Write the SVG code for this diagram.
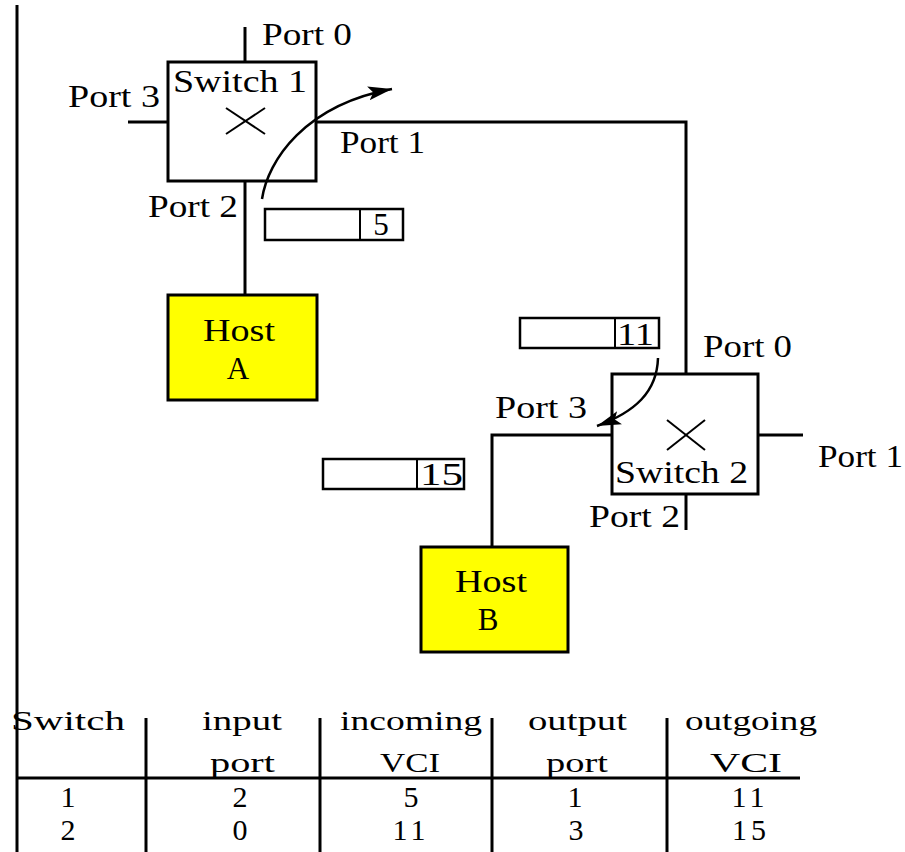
<svg xmlns="http://www.w3.org/2000/svg" width="905" height="852" viewBox="0 0 905 852">
<defs>
<style>
.t{font-family:"Liberation Serif","Times New Roman",serif;font-size:31px;fill:#000}
.tb{font-family:"Liberation Serif","Times New Roman",serif;font-size:28px;fill:#000}
.num{font-family:"Liberation Serif","Times New Roman",serif;font-size:30px;fill:#000}
.ln{stroke:#000;stroke-width:3;fill:none}
.thin{stroke:#000;stroke-width:2;fill:none}
.arr{stroke:#000;stroke-width:2.5;fill:none}
.box{fill:#fff;stroke:#000;stroke-width:3}
.host{fill:#ffff00;stroke:#000;stroke-width:3}
.vci{fill:#fff;stroke:#000;stroke-width:2.5}
</style>
<marker id="ah" markerWidth="26" markerHeight="18" refX="24" refY="9" orient="auto" markerUnits="userSpaceOnUse">
<path d="M0,2 L24,9 L0,16 L5,9 Z" fill="#000"/>
</marker>
</defs>
<rect width="905" height="852" fill="#fff"/>

<g id="connectors">
<line class="ln" x1="17" y1="5" x2="17" y2="852"/>
<line class="ln" x1="245" y1="27" x2="245" y2="62"/>
<line class="ln" x1="128" y1="122" x2="168" y2="122"/>
<polyline class="ln" points="316,122 686,122 686,374"/>
<line class="ln" x1="245" y1="181" x2="245" y2="295"/>
<line class="ln" x1="758" y1="435" x2="803" y2="435"/>
<line class="ln" x1="686" y1="494" x2="686" y2="530"/>
<polyline class="ln" points="612,435 492,435 492,547"/>
</g>

<g id="switch1">
<rect class="box" x="168" y="62" width="148" height="119"/>
<line class="thin" x1="226" y1="108" x2="265" y2="134"/>
<line class="thin" x1="226" y1="134" x2="265" y2="108"/>
<text class="t" x="173" y="92" textLength="134" lengthAdjust="spacingAndGlyphs">Switch 1</text>
<text class="t" x="262" y="45" textLength="90" lengthAdjust="spacingAndGlyphs">Port 0</text>
<text class="t" x="68" y="107" textLength="92" lengthAdjust="spacingAndGlyphs">Port 3</text>
<text class="t" x="340" y="153" textLength="85" lengthAdjust="spacingAndGlyphs">Port 1</text>
<text class="t" x="148" y="217" textLength="90" lengthAdjust="spacingAndGlyphs">Port 2</text>
</g>

<g id="switch2">
<rect class="box" x="612" y="374" width="146" height="120"/>
<line class="thin" x1="667" y1="420" x2="705" y2="450"/>
<line class="thin" x1="667" y1="450" x2="705" y2="420"/>
<text class="t" x="615" y="483" textLength="133" lengthAdjust="spacingAndGlyphs">Switch 2</text>
<text class="t" x="703" y="357" textLength="89" lengthAdjust="spacingAndGlyphs">Port 0</text>
<text class="t" x="495" y="418" textLength="92" lengthAdjust="spacingAndGlyphs">Port 3</text>
<text class="t" x="818" y="467" textLength="85" lengthAdjust="spacingAndGlyphs">Port 1</text>
<text class="t" x="589" y="527" textLength="91" lengthAdjust="spacingAndGlyphs">Port 2</text>
</g>

<g id="hostA">
<rect class="host" x="168" y="295" width="149" height="105"/>
<text class="t" x="203" y="341" textLength="72" lengthAdjust="spacingAndGlyphs">Host</text>
<text class="t" x="238" y="379" text-anchor="middle">A</text>
</g>

<g id="hostB">
<rect class="host" x="421" y="547" width="147" height="105"/>
<text class="t" x="455" y="592" textLength="72" lengthAdjust="spacingAndGlyphs">Host</text>
<text class="t" x="488" y="630" text-anchor="middle">B</text>
</g>

<g id="vci5">
<rect class="vci" x="265" y="209" width="138" height="31"/>
<line class="thin" x1="360" y1="209" x2="360" y2="240"/>
<text class="t" x="381" y="235" text-anchor="middle">5</text>
</g>

<g id="vci11">
<rect class="vci" x="520" y="318" width="139" height="30"/>
<line class="thin" x1="615" y1="318" x2="615" y2="348"/>
<text class="t" x="617" y="345" textLength="37" lengthAdjust="spacingAndGlyphs">11</text>
</g>

<g id="vci15">
<rect class="vci" x="323" y="459" width="141" height="30"/>
<line class="thin" x1="417" y1="459" x2="417" y2="489"/>
<text class="t" x="420" y="485" textLength="43" lengthAdjust="spacingAndGlyphs">15</text>
</g>

<g id="arrows">
<path class="arr" d="M262,199 C268,160 305,105 392,89" marker-end="url(#ah)"/>
<path class="arr" d="M658,358 C657,392 635,412 597,426" marker-end="url(#ah)"/>
</g>

<g id="table">
<line class="ln" x1="17" y1="778" x2="800" y2="778"/>
<line class="ln" x1="146" y1="718" x2="146" y2="852"/>
<line class="ln" x1="320" y1="718" x2="320" y2="852"/>
<line class="ln" x1="492" y1="718" x2="492" y2="852"/>
<line class="ln" x1="667" y1="718" x2="667" y2="852"/>
<text class="tb" x="11" y="730" textLength="114" lengthAdjust="spacingAndGlyphs">Switch</text>
<text class="tb" x="202" y="730" textLength="80" lengthAdjust="spacingAndGlyphs">input</text>
<text class="tb" x="340" y="730" textLength="142" lengthAdjust="spacingAndGlyphs">incoming</text>
<text class="tb" x="528" y="730" textLength="99" lengthAdjust="spacingAndGlyphs">output</text>
<text class="tb" x="685" y="730" textLength="132" lengthAdjust="spacingAndGlyphs">outgoing</text>
<text class="tb" x="210" y="772" textLength="65" lengthAdjust="spacingAndGlyphs">port</text>
<text class="tb" x="380" y="772" textLength="60" lengthAdjust="spacingAndGlyphs">VCI</text>
<text class="tb" x="546" y="772" textLength="62" lengthAdjust="spacingAndGlyphs">port</text>
<text class="tb" x="710" y="772" textLength="72" lengthAdjust="spacingAndGlyphs">VCI</text>
<text class="num" x="68" y="807" text-anchor="middle">1</text>
<text class="num" x="240" y="807" text-anchor="middle">2</text>
<text class="num" x="411" y="807" text-anchor="middle">5</text>
<text class="num" x="575" y="807" text-anchor="middle">1</text>
<text class="num" x="750" y="807" text-anchor="middle" letter-spacing="4">11</text>
<text class="num" x="68" y="840" text-anchor="middle">2</text>
<text class="num" x="240" y="840" text-anchor="middle">0</text>
<text class="num" x="411" y="840" text-anchor="middle" letter-spacing="4">11</text>
<text class="num" x="576" y="840" text-anchor="middle">3</text>
<text class="num" x="751" y="840" text-anchor="middle" letter-spacing="4">15</text>
</g>
</svg>
